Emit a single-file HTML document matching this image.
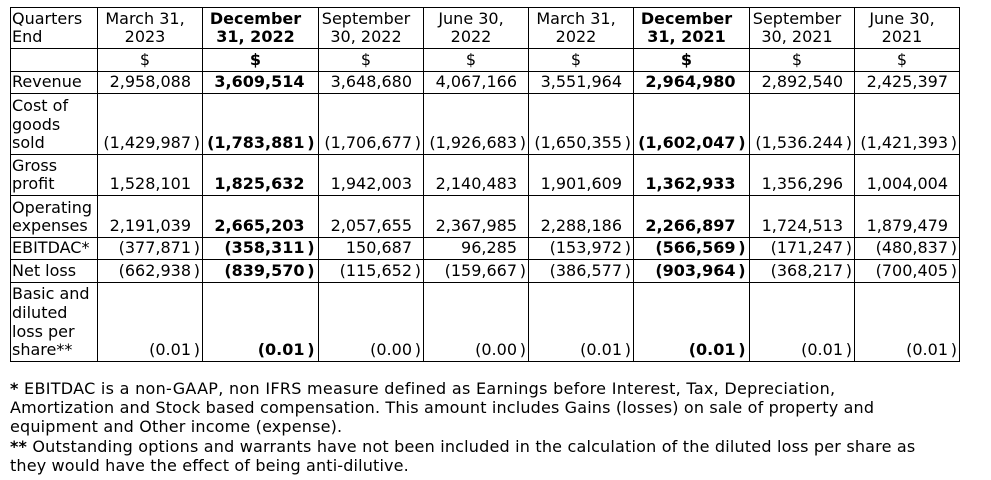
<!DOCTYPE html>
<html><head><meta charset="utf-8">
<style>
html,body{margin:0;padding:0;background:#fff;}
body{width:991px;height:480px;position:relative;overflow:hidden;font-family:"DejaVu Sans","Liberation Sans",sans-serif;font-size:16px;color:#000;}
.h{position:absolute;left:10px;width:950px;height:1px;background:#000;}
.v{position:absolute;top:7px;width:1px;height:355px;background:#000;}
.c{position:absolute;display:flex;flex-direction:column;justify-content:flex-end;box-sizing:border-box;padding-bottom:1px;line-height:18.7px;white-space:nowrap;}
.l{padding-left:1px;text-align:left;}
.n{padding-right:1px;text-align:right;}
.t{text-align:center;}
.b{font-weight:bold;}
.p{display:inline-block;width:10px;padding-right:1px;box-sizing:border-box;text-align:right;}
.b .p{width:12.5px;padding-right:2.5px;}
.fn{position:absolute;left:10px;line-height:19.2px;height:19.2px;white-space:nowrap;}
</style></head><body>
<!-- horizontal lines -->
<div class="h" style="top:7px"></div>
<div class="h" style="top:48px"></div>
<div class="h" style="top:71px"></div>
<div class="h" style="top:93px"></div>
<div class="h" style="top:154px"></div>
<div class="h" style="top:195px"></div>
<div class="h" style="top:237px"></div>
<div class="h" style="top:259px"></div>
<div class="h" style="top:282px"></div>
<div class="h" style="top:361px"></div>
<!-- vertical lines -->
<div class="v" style="left:10px"></div>
<div class="v" style="left:97px"></div>
<div class="v" style="left:202px"></div>
<div class="v" style="left:318px"></div>
<div class="v" style="left:423px"></div>
<div class="v" style="left:528px"></div>
<div class="v" style="left:633px"></div>
<div class="v" style="left:749px"></div>
<div class="v" style="left:854px"></div>
<div class="v" style="left:959px"></div>

<!-- header row -->
<div class="c l" style="left:11px;top:8px;width:86px;height:40px"><div>Quarters<br>End</div></div>
<div class="c t" style="left:98px;top:8px;width:94px;height:40px"><div>March 31,<br>2023</div></div>
<div class="c t b" style="left:203px;top:8px;width:105px;height:40px"><div>December<br>31, 2022</div></div>
<div class="c t" style="left:319px;top:8px;width:94px;height:40px"><div>September<br>30, 2022</div></div>
<div class="c t" style="left:424px;top:8px;width:94px;height:40px"><div>June 30,<br>2022</div></div>
<div class="c t" style="left:529px;top:8px;width:94px;height:40px"><div>March 31,<br>2022</div></div>
<div class="c t b" style="left:634px;top:8px;width:105px;height:40px"><div>December<br>31, 2021</div></div>
<div class="c t" style="left:750px;top:8px;width:94px;height:40px"><div>September<br>30, 2021</div></div>
<div class="c t" style="left:855px;top:8px;width:94px;height:40px"><div>June 30,<br>2021</div></div>

<!-- $ row -->
<div class="c t" style="left:98px;top:49px;width:94px;height:22px"><div>$</div></div>
<div class="c t b" style="left:203px;top:49px;width:105px;height:22px"><div>$</div></div>
<div class="c t" style="left:319px;top:49px;width:94px;height:22px"><div>$</div></div>
<div class="c t" style="left:424px;top:49px;width:94px;height:22px"><div>$</div></div>
<div class="c t" style="left:529px;top:49px;width:94px;height:22px"><div>$</div></div>
<div class="c t b" style="left:634px;top:49px;width:105px;height:22px"><div>$</div></div>
<div class="c t" style="left:750px;top:49px;width:94px;height:22px"><div>$</div></div>
<div class="c t" style="left:855px;top:49px;width:94px;height:22px"><div>$</div></div>

<!-- Revenue -->
<div class="c l" style="left:11px;top:72px;width:86px;height:21px"><div>Revenue</div></div>
<div class="c n" style="left:98px;top:72px;width:104px;height:21px"><div>2,958,088<span class="p"></span></div></div>
<div class="c n b" style="left:203px;top:72px;width:115px;height:21px"><div>3,609,514<span class="p"></span></div></div>
<div class="c n" style="left:319px;top:72px;width:104px;height:21px"><div>3,648,680<span class="p"></span></div></div>
<div class="c n" style="left:424px;top:72px;width:104px;height:21px"><div>4,067,166<span class="p"></span></div></div>
<div class="c n" style="left:529px;top:72px;width:104px;height:21px"><div>3,551,964<span class="p"></span></div></div>
<div class="c n b" style="left:634px;top:72px;width:115px;height:21px"><div>2,964,980<span class="p"></span></div></div>
<div class="c n" style="left:750px;top:72px;width:104px;height:21px"><div>2,892,540<span class="p"></span></div></div>
<div class="c n" style="left:855px;top:72px;width:104px;height:21px"><div>2,425,397<span class="p"></span></div></div>

<!-- COGS -->
<div class="c l" style="left:11px;top:94px;width:86px;height:60px"><div>Cost of<br>goods<br>sold</div></div>
<div class="c n" style="left:98px;top:94px;width:104px;height:60px"><div>(1,429,987<span class="p">)</span></div></div>
<div class="c n b" style="left:203px;top:94px;width:115px;height:60px"><div>(1,783,881<span class="p">)</span></div></div>
<div class="c n" style="left:319px;top:94px;width:104px;height:60px"><div>(1,706,677<span class="p">)</span></div></div>
<div class="c n" style="left:424px;top:94px;width:104px;height:60px"><div>(1,926,683<span class="p">)</span></div></div>
<div class="c n" style="left:529px;top:94px;width:104px;height:60px"><div>(1,650,355<span class="p">)</span></div></div>
<div class="c n b" style="left:634px;top:94px;width:115px;height:60px"><div>(1,602,047<span class="p">)</span></div></div>
<div class="c n" style="left:750px;top:94px;width:104px;height:60px"><div>(1,536.244<span class="p">)</span></div></div>
<div class="c n" style="left:855px;top:94px;width:104px;height:60px"><div>(1,421,393<span class="p">)</span></div></div>

<!-- Gross profit -->
<div class="c l" style="left:11px;top:155px;width:86px;height:40px"><div>Gross<br>profit</div></div>
<div class="c n" style="left:98px;top:155px;width:104px;height:40px"><div>1,528,101<span class="p"></span></div></div>
<div class="c n b" style="left:203px;top:155px;width:115px;height:40px"><div>1,825,632<span class="p"></span></div></div>
<div class="c n" style="left:319px;top:155px;width:104px;height:40px"><div>1,942,003<span class="p"></span></div></div>
<div class="c n" style="left:424px;top:155px;width:104px;height:40px"><div>2,140,483<span class="p"></span></div></div>
<div class="c n" style="left:529px;top:155px;width:104px;height:40px"><div>1,901,609<span class="p"></span></div></div>
<div class="c n b" style="left:634px;top:155px;width:115px;height:40px"><div>1,362,933<span class="p"></span></div></div>
<div class="c n" style="left:750px;top:155px;width:104px;height:40px"><div>1,356,296<span class="p"></span></div></div>
<div class="c n" style="left:855px;top:155px;width:104px;height:40px"><div>1,004,004<span class="p"></span></div></div>

<!-- Operating expenses -->
<div class="c l" style="left:11px;top:196px;width:86px;height:41px"><div>Operating<br>expenses</div></div>
<div class="c n" style="left:98px;top:196px;width:104px;height:41px"><div>2,191,039<span class="p"></span></div></div>
<div class="c n b" style="left:203px;top:196px;width:115px;height:41px"><div>2,665,203<span class="p"></span></div></div>
<div class="c n" style="left:319px;top:196px;width:104px;height:41px"><div>2,057,655<span class="p"></span></div></div>
<div class="c n" style="left:424px;top:196px;width:104px;height:41px"><div>2,367,985<span class="p"></span></div></div>
<div class="c n" style="left:529px;top:196px;width:104px;height:41px"><div>2,288,186<span class="p"></span></div></div>
<div class="c n b" style="left:634px;top:196px;width:115px;height:41px"><div>2,266,897<span class="p"></span></div></div>
<div class="c n" style="left:750px;top:196px;width:104px;height:41px"><div>1,724,513<span class="p"></span></div></div>
<div class="c n" style="left:855px;top:196px;width:104px;height:41px"><div>1,879,479<span class="p"></span></div></div>

<!-- EBITDAC -->
<div class="c l" style="left:11px;top:238px;width:86px;height:21px"><div>EBITDAC*</div></div>
<div class="c n" style="left:98px;top:238px;width:104px;height:21px"><div>(377,871<span class="p">)</span></div></div>
<div class="c n b" style="left:203px;top:238px;width:115px;height:21px"><div>(358,311<span class="p">)</span></div></div>
<div class="c n" style="left:319px;top:238px;width:104px;height:21px"><div>150,687<span class="p"></span></div></div>
<div class="c n" style="left:424px;top:238px;width:104px;height:21px"><div>96,285<span class="p"></span></div></div>
<div class="c n" style="left:529px;top:238px;width:104px;height:21px"><div>(153,972<span class="p">)</span></div></div>
<div class="c n b" style="left:634px;top:238px;width:115px;height:21px"><div>(566,569<span class="p">)</span></div></div>
<div class="c n" style="left:750px;top:238px;width:104px;height:21px"><div>(171,247<span class="p">)</span></div></div>
<div class="c n" style="left:855px;top:238px;width:104px;height:21px"><div>(480,837<span class="p">)</span></div></div>

<!-- Net loss -->
<div class="c l" style="left:11px;top:260px;width:86px;height:22px"><div>Net loss</div></div>
<div class="c n" style="left:98px;top:260px;width:104px;height:22px"><div>(662,938<span class="p">)</span></div></div>
<div class="c n b" style="left:203px;top:260px;width:115px;height:22px"><div>(839,570<span class="p">)</span></div></div>
<div class="c n" style="left:319px;top:260px;width:104px;height:22px"><div>(115,652<span class="p">)</span></div></div>
<div class="c n" style="left:424px;top:260px;width:104px;height:22px"><div>(159,667<span class="p">)</span></div></div>
<div class="c n" style="left:529px;top:260px;width:104px;height:22px"><div>(386,577<span class="p">)</span></div></div>
<div class="c n b" style="left:634px;top:260px;width:115px;height:22px"><div>(903,964<span class="p">)</span></div></div>
<div class="c n" style="left:750px;top:260px;width:104px;height:22px"><div>(368,217<span class="p">)</span></div></div>
<div class="c n" style="left:855px;top:260px;width:104px;height:22px"><div>(700,405<span class="p">)</span></div></div>

<!-- Basic and diluted -->
<div class="c l" style="left:11px;top:283px;width:86px;height:78px"><div>Basic and<br>diluted<br>loss per<br>share**</div></div>
<div class="c n" style="left:98px;top:283px;width:104px;height:78px"><div>(0.01<span class="p">)</span></div></div>
<div class="c n b" style="left:203px;top:283px;width:115px;height:78px"><div>(0.01<span class="p">)</span></div></div>
<div class="c n" style="left:319px;top:283px;width:104px;height:78px"><div>(0.00<span class="p">)</span></div></div>
<div class="c n" style="left:424px;top:283px;width:104px;height:78px"><div>(0.00<span class="p">)</span></div></div>
<div class="c n" style="left:529px;top:283px;width:104px;height:78px"><div>(0.01<span class="p">)</span></div></div>
<div class="c n b" style="left:634px;top:283px;width:115px;height:78px"><div>(0.01<span class="p">)</span></div></div>
<div class="c n" style="left:750px;top:283px;width:104px;height:78px"><div>(0.01<span class="p">)</span></div></div>
<div class="c n" style="left:855px;top:283px;width:104px;height:78px"><div>(0.01<span class="p">)</span></div></div>

<!-- footnotes -->
<div class="fn" style="top:379px;letter-spacing:0.29px"><b>*</b> EBITDAC is a non-GAAP, non IFRS measure defined as Earnings before Interest, Tax, Depreciation,</div>
<div class="fn" style="top:398.2px;letter-spacing:0.155px">Amortization and Stock based compensation. This amount includes Gains (losses) on sale of property and</div>
<div class="fn" style="top:417.4px;letter-spacing:0.17px">equipment and Other income (expense).</div>
<div class="fn" style="top:436.6px;letter-spacing:0.19px"><b>**</b> Outstanding options and warrants have not been included in the calculation of the diluted loss per share as</div>
<div class="fn" style="top:455.8px;letter-spacing:0.15px">they would have the effect of being anti-dilutive.</div>
</body></html>
